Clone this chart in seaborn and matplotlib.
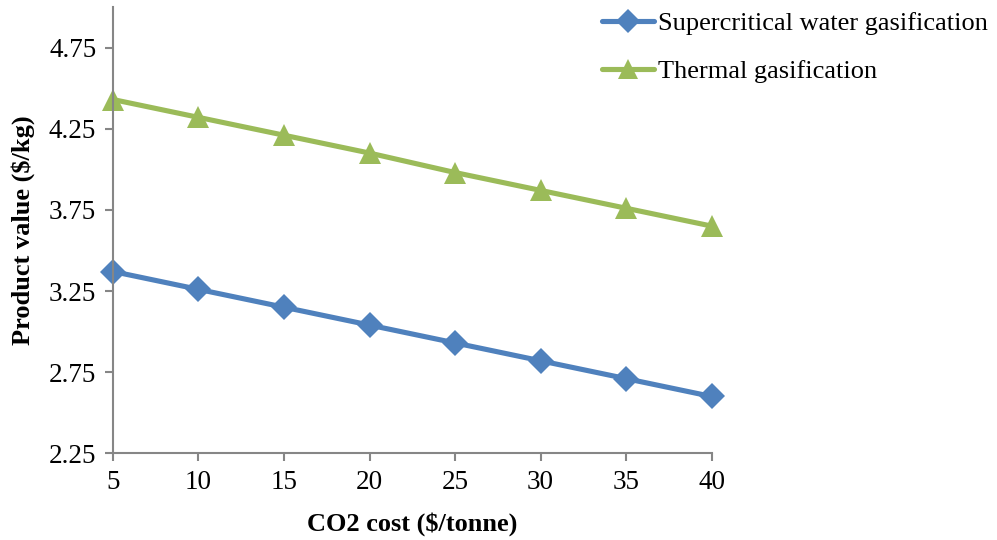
import matplotlib
matplotlib.use("Agg")
import matplotlib.pyplot as plt
import seaborn as sns
import pandas as pd

# CO2 cost levels ($/tonne) and resulting product values ($/kg)
co2_cost = [5, 10, 15, 20, 25, 30, 35, 40]
scwg_value = [3.37, 3.26, 3.15, 3.04, 2.93, 2.82, 2.71, 2.60]
thermal_value = [4.43, 4.32, 4.21, 4.10, 3.98, 3.87, 3.76, 3.65]
series_names = ["Supercritical water gasification", "Thermal gasification"]
y_ticks = [2.25, 2.75, 3.25, 3.75, 4.25, 4.75]

df = pd.concat([
    pd.DataFrame({"cost": co2_cost, "value": scwg_value, "process": series_names[0]}),
    pd.DataFrame({"cost": co2_cost, "value": thermal_value, "process": series_names[1]}),
])

sns.set_theme(style="white")
plt.rcParams["font.family"] = ["Liberation Serif", "DejaVu Serif"]
plt.rcParams["text.color"] = "black"
plt.rcParams["axes.labelcolor"] = "black"

fig = plt.figure(figsize=(9.97, 5.40), dpi=100)
ax = fig.add_axes([0.1133, 0.1606, 0.6005, 0.8264])

palette = {series_names[0]: "#4F81BD", series_names[1]: "#9BBB59"}
markers = {series_names[0]: "D", series_names[1]: "^"}
msizes = {series_names[0]: 13.5, series_names[1]: 16}

for name in series_names:
    sns.lineplot(data=df[df["process"] == name], x="cost", y="value",
                 color=palette[name], marker=markers[name], linewidth=3.7,
                 markersize=msizes[name], markeredgewidth=0, ax=ax,
                 clip_on=False, legend=False)

ax.set_xlim(5, 40)
ax.set_ylim(2.25, 5.0)
ax.set_xticks(co2_cost)
ax.set_xticklabels([str(c) for c in co2_cost])
ax.set_yticks(y_ticks)
ax.set_yticklabels([f"{t:.2f}" for t in y_ticks])

for side in ["top", "right"]:
    ax.spines[side].set_visible(False)
for side in ["left", "bottom"]:
    ax.spines[side].set_color("#868686")
    ax.spines[side].set_linewidth(1.5)
ax.tick_params(axis="both", which="major", direction="out", length=6, width=1.5,
               color="#868686", labelsize=19.5, labelcolor="black", pad=6,
               bottom=True, left=True)

ax.set_xlabel("CO2 cost ($/tonne)", fontsize=19, fontweight="bold", labelpad=12)
ax.set_ylabel("Product value ($/kg)", fontsize=19, fontweight="bold", labelpad=10)

handles = [plt.Line2D([], [], color=palette[n], marker=markers[n], linewidth=3.7,
                      markersize=msizes[n] * 0.9, markeredgewidth=0) for n in series_names]
fig.legend(handles, series_names, loc="upper left", bbox_to_anchor=(0.585, 1.012),
           frameon=False, fontsize=19, handlelength=2.0, handletextpad=0.15,
           labelspacing=0.92, borderaxespad=0.3)

fig.savefig("out.png", dpi=100)
